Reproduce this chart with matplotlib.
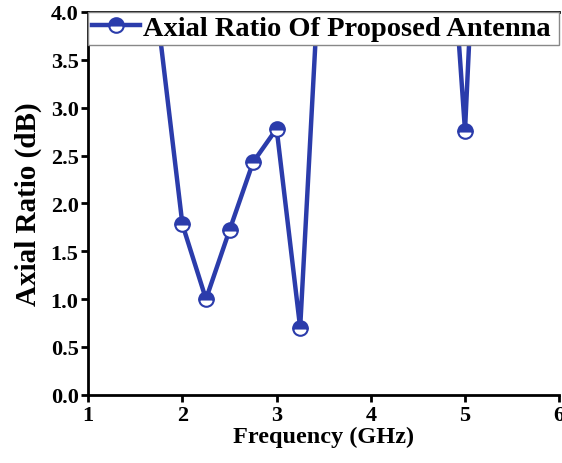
import matplotlib
matplotlib.use("Agg")
import matplotlib.pyplot as plt

# frequency points (GHz) and axial ratio (dB); values above 4 dB are clipped by the axes
freq = [1.75, 2.0, 2.25, 2.5, 2.75, 3.0, 3.25, 3.5, 4.75, 5.0, 5.25]
axial_ratio = [3.85, 1.78, 1.0, 1.72, 2.43, 2.78, 0.70, 5.3, 6.3, 2.76, 8.0]

x_ticks = [1, 2, 3, 4, 5, 6]
y_ticks = [0.0, 0.5, 1.0, 1.5, 2.0, 2.5, 3.0, 3.5, 4.0]

plt.rcParams['font.family'] = ['Liberation Serif', 'DejaVu Serif']
plt.rcParams['font.weight'] = 'bold'

blue = '#2B3CAB'

fig = plt.figure(figsize=(5.62, 4.64), dpi=100)
ax = fig.add_axes([0.157, 0.147, 0.838, 0.825])

ax.plot(freq, axial_ratio, '-', color=blue, linewidth=3.2,
        marker='o', markersize=10.5, fillstyle='top',
        markerfacecolor=blue, markerfacecoloralt='white',
        markeredgecolor=blue, markeredgewidth=1.5,
        label='Axial Ratio Of Proposed Antenna')

ax.set_xlim(1, 6)
ax.set_ylim(0, 4)
ax.set_xticks(x_ticks)
ax.set_yticks(y_ticks)
ax.set_yticklabels([f"{v:.1f}" for v in y_ticks])
ax.set_xlabel("Frequency (GHz)", fontsize=17.5, fontweight='bold', labelpad=1)
ax.set_ylabel("Axial Ratio (dB)", fontsize=21, fontweight='bold', labelpad=6)
ax.tick_params(labelsize=16, width=2, length=5, direction='out', pad=2)
ax.spines['top'].set_visible(False)
ax.spines['right'].set_visible(False)
for s in ['left', 'bottom']:
    ax.spines[s].set_linewidth(2)

leg = ax.legend(loc='upper left', bbox_to_anchor=(0, 0, 1, 1), mode='expand',
                borderaxespad=0, frameon=True, fancybox=False,
                handlelength=1.7, handletextpad=0.1, borderpad=0.12,
                prop={'weight': 'bold', 'size': 20.5})
leg.get_frame().set_edgecolor('#888888')
leg.get_frame().set_linewidth(1)
leg.get_frame().set_alpha(1)

# thick top border above the legend
ax.plot([0, 1], [1, 1], transform=ax.transAxes, color='black', linewidth=2, clip_on=False)

fig.savefig('out.png', dpi=100)
